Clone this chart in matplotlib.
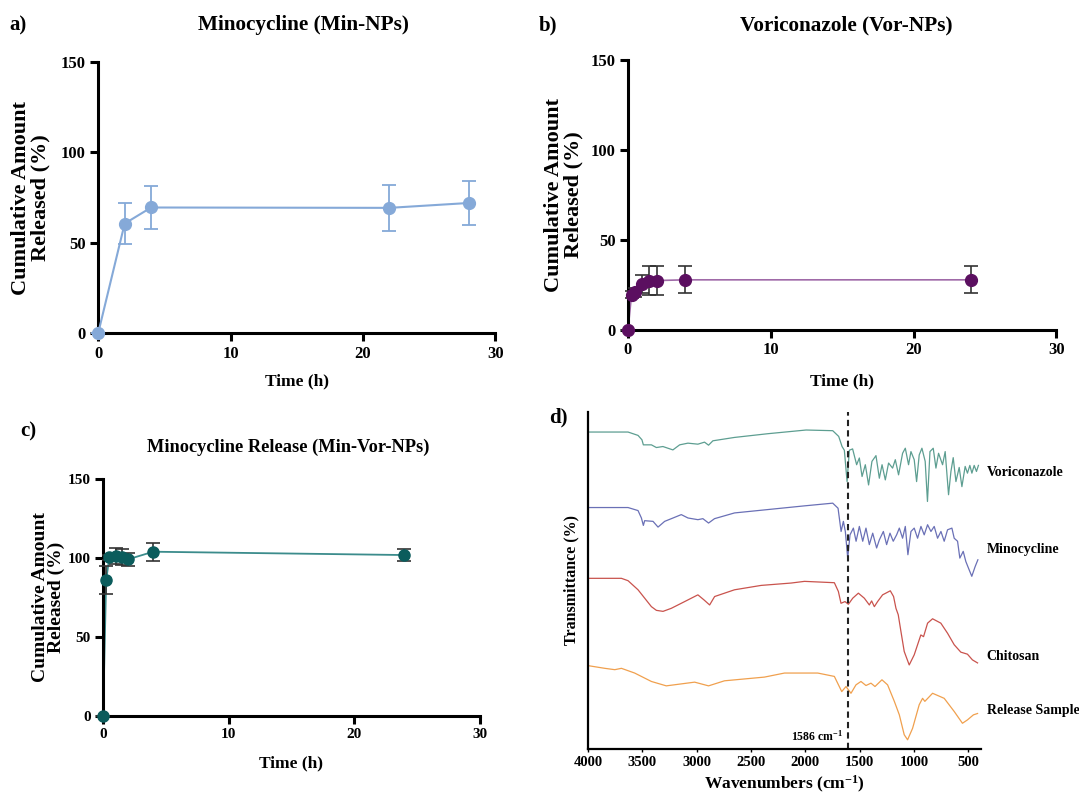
import matplotlib
matplotlib.use('Agg')
import matplotlib.pyplot as plt
import matplotlib.transforms as mtransforms

plt.rcParams['font.family'] = ['Liberation Serif', 'DejaVu Serif']
plt.rcParams['font.weight'] = 'bold'
plt.rcParams['axes.labelweight'] = 'bold'
plt.rcParams['mathtext.default'] = 'regular'

# a) Minocycline (Min-NPs)
min_time = [0, 2, 4, 22, 28]
min_release = [0, 60.6, 69.5, 69.3, 72.0]
min_err = [0, 11.4, 12.1, 12.7, 12.4]

# b) Voriconazole (Vor-NPs)
vor_time = [0, 0.25, 0.5, 1, 1.5, 2, 4, 24]
vor_release = [0, 19.5, 20.8, 25.6, 27.3, 27.4, 27.8, 27.8]
vor_err = [0, 2.0, 2.5, 5.0, 8.0, 8.0, 7.5, 7.5]

# c) Minocycline release (Min-Vor-NPs)
mv_time = [0, 0.25, 0.5, 1, 1.5, 2, 4, 24]
mv_release = [0, 86.1, 100.4, 101.3, 100.8, 99.2, 104.0, 101.9]
mv_err = [0, 8.6, 1.5, 5.0, 5.0, 4.0, 5.7, 4.0]

# d) FTIR spectra (wavenumber, transmittance in arbitrary offset units)
vori_wn = [4000, 3632, 3540, 3504, 3491, 3417, 3371, 3311, 3219, 3157, 3081, 2989, 2928,
           2891, 2851, 2652, 2346, 1993, 1748, 1693, 1662, 1641, 1616, 1595, 1565, 1528,
           1503, 1478, 1448, 1418, 1387, 1350, 1319, 1294, 1264, 1234, 1197, 1172, 1142,
           1105, 1080, 1050, 1028, 998, 976, 952, 927, 897, 876, 853, 823, 798, 774, 737,
           713, 682, 660, 639, 614, 584, 559, 529, 508, 486, 467, 446, 425, 407]
vori_t = [94.0, 94.0, 93.0, 91.7, 90.2, 90.2, 89.4, 89.7, 88.7, 90.2, 90.7, 90.4, 91.0,
          90.1, 91.4, 92.4, 93.5, 94.6, 94.4, 92.7, 89.7, 88.6, 79.3, 88.6, 89.0, 84.3,
          86.3, 80.8, 84.3, 78.3, 85.3, 87.0, 80.3, 84.3, 79.8, 84.8, 83.3, 85.8, 81.3,
          87.7, 89.2, 84.3, 88.2, 85.8, 79.3, 87.2, 89.2, 85.3, 73.4, 88.2, 89.2, 83.3,
          87.7, 84.3, 88.2, 75.4, 82.3, 86.4, 79.3, 83.5, 77.8, 83.8, 81.8, 84.1, 81.8,
          84.1, 82.3, 84.1]

mino_wn = [4000, 3632, 3540, 3509, 3491, 3479, 3402, 3356, 3295, 3218, 3142, 3080, 2989,
           2943, 2891, 2836, 2652, 2345, 2008, 1748, 1699, 1671, 1650, 1632, 1610, 1589,
           1558, 1533, 1503, 1472, 1442, 1411, 1380, 1344, 1319, 1282, 1252, 1221, 1191,
           1160, 1135, 1105, 1080, 1056, 1028, 998, 967, 936, 906, 875, 844, 814, 783,
           752, 722, 691, 651, 630, 599, 578, 547, 523, 492, 468, 437, 412]
mino_t = [71.6, 71.6, 70.7, 68.5, 66.3, 67.7, 67.5, 65.8, 67.5, 68.5, 69.5, 68.5, 68.0,
          68.3, 67.0, 68.3, 70.0, 71.0, 72.1, 72.9, 71.4, 64.5, 67.5, 64.5, 56.6, 63.5,
          65.5, 61.6, 66.0, 61.6, 65.5, 60.6, 64.0, 59.6, 62.0, 64.5, 60.6, 64.0, 61.6,
          63.5, 65.5, 62.5, 66.0, 57.6, 64.5, 65.5, 62.5, 66.0, 63.5, 66.5, 64.5, 66.0,
          62.5, 64.5, 61.6, 65.0, 65.5, 62.5, 61.6, 56.6, 58.6, 55.6, 53.1, 51.2, 54.1,
          56.1]

chit_wn = [4000, 3693, 3632, 3540, 3417, 3371, 3310, 3234, 3111, 2989, 2933, 2881, 2835,
           2652, 2407, 2131, 2008, 1733, 1696, 1672, 1635, 1604, 1564, 1512, 1457, 1411,
           1390, 1365, 1335, 1289, 1218, 1188, 1166, 1145, 1120, 1090, 1044, 998, 937,
           912, 875, 829, 753, 691, 630, 569, 508, 462, 415]
chit_t = [50.6, 50.6, 49.9, 47.2, 42.2, 41.1, 40.8, 41.7, 43.7, 45.7, 44.2, 42.7, 45.2,
          47.2, 48.5, 49.2, 49.7, 49.3, 46.7, 43.2, 43.7, 42.9, 44.7, 46.2, 44.7, 42.7,
          43.9, 42.2, 43.7, 45.7, 46.9, 45.2, 41.7, 39.8, 34.8, 28.9, 24.9, 27.9, 33.8,
          33.3, 37.3, 38.6, 37.3, 34.3, 30.9, 28.7, 28.1, 26.4, 25.5]

rel_wn = [4000, 3846, 3754, 3693, 3571, 3417, 3280, 3019, 2891, 2744, 2376, 2192, 1886,
          1733, 1665, 1626, 1580, 1534, 1488, 1442, 1396, 1359, 1295, 1243, 1181, 1135,
          1090, 1059, 1013, 952, 921, 900, 829, 722, 630, 554, 508, 453, 415]
rel_t = [24.7, 23.9, 23.5, 23.9, 22.5, 20.0, 18.7, 19.8, 18.7, 20.2, 21.3, 22.5, 22.5,
         21.5, 17.0, 18.5, 16.5, 19.0, 20.0, 18.8, 19.5, 18.5, 20.5, 19.0, 14.1, 10.1,
         4.2, 2.7, 6.1, 13.1, 15.0, 14.1, 16.5, 15.0, 11.1, 7.6, 8.6, 10.1, 10.5]

spectra = [
    ('Voriconazole', vori_wn, vori_t, '#5d9e91', 81.9),
    ('Minocycline', mino_wn, mino_t, '#6a70b6', 59.3),
    ('Chitosan', chit_wn, chit_t, '#c9534d', 27.3),
    ('Release Sample', rel_wn, rel_t, '#f0a04e', 11.3),
]
peak_wn = 1610
wn_ticks = [4000, 3500, 3000, 2500, 2000, 1500, 1000, 500]


def style_release_axes(ax, ylabel_x, ylabel_size=16):
    for s in ['top', 'right']:
        ax.spines[s].set_visible(False)
    for s in ['left', 'bottom']:
        ax.spines[s].set_linewidth(2.2)
    ax.set_xlim(0, 30)
    ax.set_ylim(0, 150)
    ax.set_xticks([0, 10, 20, 30])
    ax.set_yticks([0, 50, 100, 150])
    ax.tick_params(width=2.2, length=6, labelsize=12, pad=3)
    for lab in ax.get_xticklabels() + ax.get_yticklabels():
        lab.set_fontweight('bold')
    ax.set_ylabel('Cumulative Amount\nReleased (%)', fontsize=ylabel_size, linespacing=0.95)
    ax.yaxis.set_label_coords(ylabel_x, 0.5)


fig = plt.figure(figsize=(10.79, 7.95), dpi=100)

# a
ax_a = fig.add_axes([0.091, 0.581, 0.368, 0.341])
ax_a.errorbar(min_time, min_release, yerr=min_err, color='#85a9d8', lw=1.5, elinewidth=1.3,
              capsize=5, capthick=1.3, marker='o', ms=8.5, clip_on=False, zorder=3)
style_release_axes(ax_a, -0.12)
ax_a.set_xlabel('Time (h)', fontsize=12.5)
ax_a.xaxis.set_label_coords(0.5, -0.15)
fig.text(0.009, 0.968, 'a)', fontsize=15, fontweight='bold', va='center')
fig.text(0.281, 0.968, 'Minocycline (Min-NPs)', fontsize=15.3, fontweight='bold', ha='center', va='center')

# b
ax_b = fig.add_axes([0.582, 0.585, 0.397, 0.340])
ax_b.plot(vor_time, vor_release, color='#a06aa8', lw=1.2, zorder=2)
ax_b.errorbar(vor_time, vor_release, yerr=vor_err, fmt='none', ecolor='#333333', elinewidth=1.2,
              capsize=5, capthick=1.2, clip_on=False, zorder=3)
ax_b.plot(vor_time, vor_release, 'o', color='#5b0f60', ms=8.5, clip_on=False, zorder=4)
style_release_axes(ax_b, -0.105)
ax_b.set_xlabel('Time (h)', fontsize=12.5)
ax_b.xaxis.set_label_coords(0.5, -0.16)
fig.text(0.499, 0.968, 'b)', fontsize=15, fontweight='bold', va='center')
fig.text(0.784, 0.968, 'Voriconazole (Vor-NPs)', fontsize=15.3, fontweight='bold', ha='center', va='center')

# c
ax_c = fig.add_axes([0.0955, 0.0994, 0.349, 0.298])
ax_c.plot(mv_time, mv_release, color='#3b8c8c', lw=1.3, zorder=2)
ax_c.errorbar(mv_time, mv_release, yerr=mv_err, fmt='none', ecolor='#333333', elinewidth=1.2,
              capsize=5, capthick=1.2, clip_on=False, zorder=3)
ax_c.plot(mv_time, mv_release, 'o', color='#0b5c5c', ms=8, clip_on=False, zorder=4)
style_release_axes(ax_c, -0.10, ylabel_size=14)
ax_c.tick_params(labelsize=11)
ax_c.set_xlabel('Time (h)', fontsize=12.5)
ax_c.xaxis.set_label_coords(0.5, -0.165)
fig.text(0.019, 0.457, 'c)', fontsize=15, fontweight='bold', va='center')
fig.text(0.267, 0.437, 'Minocycline Release (Min-Vor-NPs)', fontsize=13.2, fontweight='bold',
         ha='center', va='center')

# d
ax_d = fig.add_axes([0.545, 0.058, 0.364, 0.424])
label_tf = mtransforms.blended_transform_factory(ax_d.transAxes, ax_d.transData)
for name, wn, t, color, label_y in spectra:
    ax_d.plot(wn, t, color=color, lw=0.9)
    ax_d.text(1.015, label_y, name, transform=label_tf, fontsize=10, fontweight='bold',
              va='center', ha='left', clip_on=False)
ax_d.axvline(peak_wn, color='#222222', ls=(0, (3, 2)), lw=1.5)
ax_d.text(peak_wn + 40, 3.6, '1586 cm$^{-1}$', fontsize=8.5, fontweight='bold', ha='right', va='center')
ax_d.set_xlim(4000, 385)
ax_d.set_ylim(0, 100)
ax_d.set_xticks(wn_ticks)
ax_d.set_yticks([])
for s in ['top', 'right']:
    ax_d.spines[s].set_visible(False)
for s in ['left', 'bottom']:
    ax_d.spines[s].set_linewidth(1.6)
ax_d.tick_params(axis='x', length=2, width=1, labelsize=10.5, pad=3)
for lab in ax_d.get_xticklabels():
    lab.set_fontweight('bold')
ax_d.set_xlabel('Wavenumbers (cm$^{-1}$)', fontsize=12.5)
ax_d.xaxis.set_label_coords(0.5, -0.075)
ax_d.set_ylabel('Transmittance (%)', fontsize=11.5)
ax_d.yaxis.set_label_coords(-0.022, 0.5)
fig.text(0.509, 0.475, 'd)', fontsize=15, fontweight='bold', va='center')

fig.savefig('out.png', dpi=100)
